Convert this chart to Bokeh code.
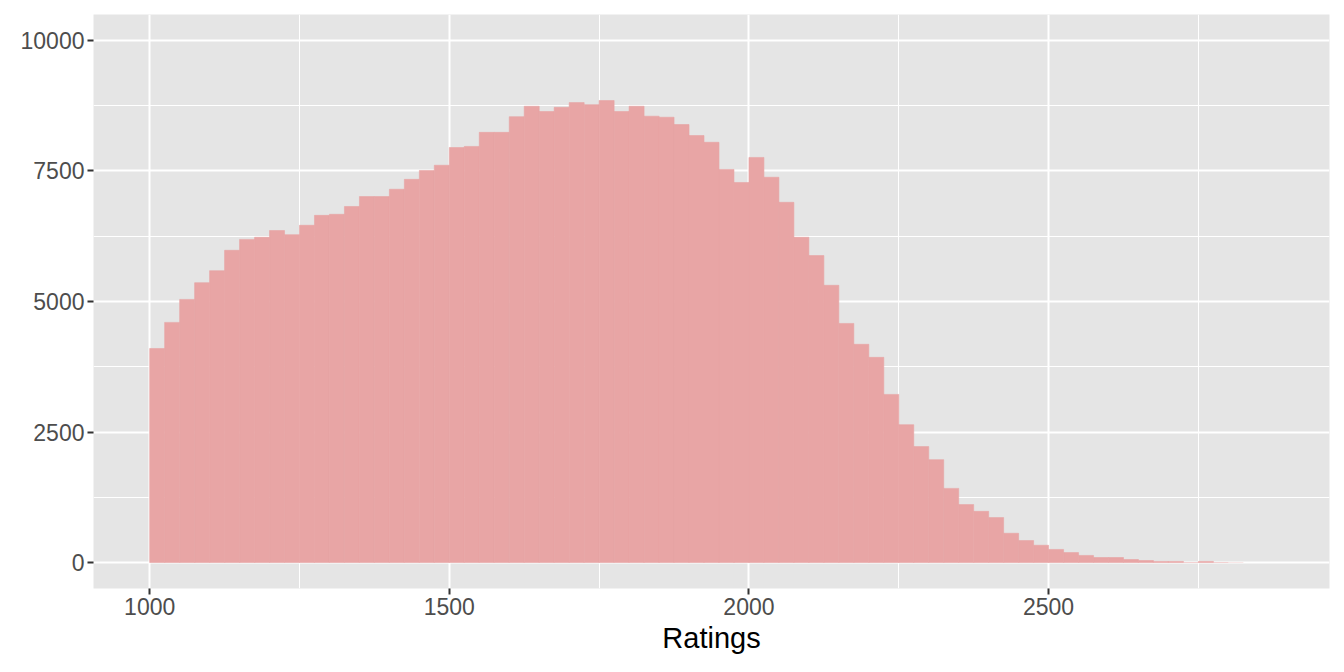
from bokeh.plotting import figure
from bokeh.models import Range1d, FixedTicker, ColumnDataSource
from bokeh.embed import file_html
from bokeh.resources import INLINE

BIN_WIDTH = 25
bin_starts = [1000, 1025, 1050, 1075, 1100, 1125, 1150, 1175, 1200, 1225,
              1250, 1275, 1300, 1325, 1350, 1375, 1400, 1425, 1450, 1475,
              1500, 1525, 1550, 1575, 1600, 1625, 1650, 1675, 1700, 1725,
              1750, 1775, 1800, 1825, 1850, 1875, 1900, 1925, 1950, 1975,
              2000, 2025, 2050, 2075, 2100, 2125, 2150, 2175, 2200, 2225,
              2250, 2275, 2300, 2325, 2350, 2375, 2400, 2425, 2450, 2475,
              2500, 2525, 2550, 2575, 2600, 2625, 2650, 2675, 2700, 2725,
              2750, 2775, 2800, 2825, 2850]
counts = [4100, 4600, 5040, 5360, 5590, 5980, 6190, 6230, 6360, 6280,
          6460, 6650, 6670, 6820, 7010, 7010, 7150, 7340, 7510, 7610,
          7950, 7970, 8240, 8240, 8540, 8740, 8640, 8720, 8810, 8770,
          8850, 8640, 8740, 8550, 8530, 8390, 8180, 8050, 7530, 7280,
          7760, 7380, 6900, 6230, 5880, 5310, 4580, 4180, 3930, 3220,
          2640, 2220, 1970, 1420, 1110, 980, 860, 560, 420, 330,
          250, 190, 135, 95, 95, 57, 38, 20, 20, 10,
          20, 8, 3, 2, 2]

x_ticks = [1000, 1500, 2000, 2500]
x_minor = [1250, 1750, 2250, 2750]
y_ticks = [0, 2500, 5000, 7500, 10000]
y_minor = [1250, 3750, 6250, 8750]

FONT = "Liberation Sans"
BAR = "#E8A5A5"

src = ColumnDataSource(dict(
    left=bin_starts,
    right=[b + BIN_WIDTH for b in bin_starts],
    top=counts,
    bottom=[0] * len(counts),
    edge=[BAR if c >= 15 else None for c in counts],
))

p = figure(width=1336, height=664, output_backend="svg", toolbar_location=None,
           x_range=Range1d(906.25, 2968.75), y_range=Range1d(-498, 10498),
           frame_width=1236, frame_height=574,
           min_border_left=93, min_border_right=7, min_border_top=14, min_border_bottom=76)

p.background_fill_color = "#E5E5E5"
p.border_fill_color = "white"
p.outline_line_color = None

p.quad(left="left", right="right", top="top", bottom="bottom", source=src,
       fill_color=BAR, line_color="edge", line_width=0.6)

p.xaxis.ticker = FixedTicker(ticks=x_ticks, minor_ticks=x_minor)
p.yaxis.ticker = FixedTicker(ticks=y_ticks, minor_ticks=y_minor)

for ax in (p.xaxis, p.yaxis):
    ax.axis_line_color = None
    ax.major_tick_line_color = "#333333"
    ax.major_tick_line_width = 2
    ax.major_tick_out = 6
    ax.major_tick_in = 0
    ax.minor_tick_out = 0
    ax.minor_tick_in = 0
    ax.major_label_text_font = FONT
    ax.major_label_text_font_size = "23px"
    ax.major_label_text_color = "#4D4D4D"
    ax.major_label_standoff = 3

p.xaxis.axis_label = "Ratings"
p.xaxis.axis_label_text_font = FONT
p.xaxis.axis_label_text_font_size = "29px"
p.xaxis.axis_label_text_font_style = "normal"
p.xaxis.axis_label_text_color = "black"
p.xaxis.axis_label_standoff = 4

for g in (p.xgrid, p.ygrid):
    g.grid_line_color = "white"
    g.grid_line_width = 2
    g.minor_grid_line_color = "white"
    g.minor_grid_line_width = 1

open("out.html", "w").write(file_html(p, INLINE))
